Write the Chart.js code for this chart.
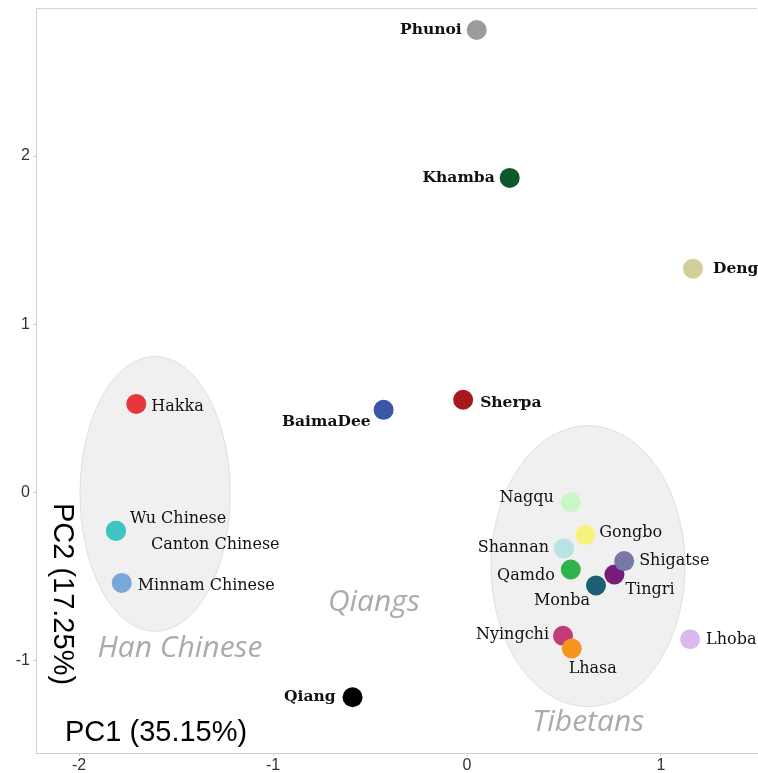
<!DOCTYPE html>
<html>
<head>
<meta charset="utf-8">
<script src="https://cdn.jsdelivr.net/npm/chart.js@4/dist/chart.umd.min.js"></script>
<style>
html,body{margin:0;padding:0;background:#fff;}
#wrap{position:relative;width:758px;height:773px;}
</style>
</head>
<body>
<div id="wrap"><canvas id="c" width="758" height="773"></canvas></div>
<script>
// ---- data ----
const populations = ["Canton Chinese","Phunoi","Khamba","Deng","Hakka","BaimaDee","Sherpa","Wu Chinese","Minnam Chinese","Qiang","Nagqu","Gongbo","Shannan","Qamdo","Tingri","Shigatse","Monba","Nyingchi","Lhasa","Lhoba"];
const pc1 = [-1.81, 0.05, 0.22, 1.165, -1.705, -0.43, -0.02, -1.81, -1.78, -0.59, 0.535, 0.61, 0.50, 0.535, 0.76, 0.81, 0.665, 0.495, 0.54, 1.15];
const pc2 = [-0.23, 2.75, 1.87, 1.33, 0.525, 0.49, 0.55, -0.23, -0.54, -1.22, -0.06, -0.255, -0.335, -0.46, -0.49, -0.41, -0.555, -0.855, -0.93, -0.875];
const xTicks = [-2, -1, 0, 1];
const yTicks = [-1, 0, 1, 2];
const groupNames = ["Han Chinese", "Qiangs", "Tibetans"];
const groupLabelX = [-1.48, -0.48, 0.625];
const groupLabelY = [-0.93, -0.655, -1.37];
const ellipseCx = [-1.608, 0.624];
const ellipseCy = [-0.01, -0.44];
const ellipseRx = [0.387, 0.5];
const ellipseRy = [0.818, 0.836];
const xTitle = "PC1 (35.15%)";
const yTitle = "PC2 (17.25%)";

// ---- styles ----
const pointColors = ["#3cc3c0","#9b9b9b","#0c5a2c","#d3cf98","#e8353b","#3a55a9","#a8181c","#3ec4c1","#78a8d6","#000000","#c9f7c6","#f8f27c","#b8e4e6","#2db44b","#771d78","#7878a8","#1c5f73","#c13b7d","#f7941f","#dbb9ef"];
// label offsets [dx, dy, align, bold]
const labelStyle = {
  "Phunoi":[-15,0,"right",true],
  "Khamba":[-15,0,"right",true],
  "Deng":[20,0,"left",true],
  "Hakka":[15,3,"left",false],
  "BaimaDee":[-13,12,"right",true],
  "Sherpa":[17,3,"left",true],
  "Wu Chinese":[14,-12,"left",false],
  "Canton Chinese":[35,14,"left",false],
  "Minnam Chinese":[16,3,"left",false],
  "Qiang":[-17,0,"right",true],
  "Nagqu":[-17,-4,"right",false],
  "Gongbo":[14,-2,"left",false],
  "Shannan":[-15,-1,"right",false],
  "Qamdo":[-16,6,"right",false],
  "Tingri":[11,15,"left",false],
  "Shigatse":[15,0,"left",false],
  "Monba":[-6,15,"right",false],
  "Nyingchi":[-14,-1,"right",false],
  "Lhasa":[21,20,"center",false],
  "Lhoba":[16,1,"left",false]
};

const decor = {
  id:'decor',
  beforeDatasetsDraw(chart){
    const {ctx, chartArea:a, scales:{x,y}} = chart;
    ctx.save();
    // top border
    ctx.strokeStyle = '#d4d4d4'; ctx.lineWidth = 1;
    ctx.beginPath(); ctx.moveTo(a.left, a.top+0.5); ctx.lineTo(a.right, a.top+0.5); ctx.stroke();
    // ellipses
    for (let i=0;i<ellipseCx.length;i++){
      const cx = x.getPixelForValue(ellipseCx[i]);
      const cy = y.getPixelForValue(ellipseCy[i]);
      const rx = Math.abs(x.getPixelForValue(ellipseCx[i]+ellipseRx[i]) - cx);
      const ry = Math.abs(y.getPixelForValue(ellipseCy[i]+ellipseRy[i]) - cy);
      ctx.beginPath(); ctx.ellipse(cx, cy, rx, ry, 0, 0, Math.PI*2);
      ctx.fillStyle = '#f0f0f0'; ctx.fill();
      ctx.strokeStyle = '#dedede'; ctx.lineWidth = 1; ctx.stroke();
    }
    // group labels
    ctx.font = 'italic 30px "Open Sans", sans-serif';
    ctx.fillStyle = '#ababab'; ctx.textAlign = 'center'; ctx.textBaseline = 'middle';
    for (let i=0;i<groupNames.length;i++){
      ctx.fillText(groupNames[i], x.getPixelForValue(groupLabelX[i]), y.getPixelForValue(groupLabelY[i]));
    }
    // axis titles inside plot
    ctx.fillStyle = '#000';
    ctx.font = '29px "Liberation Sans", Arial, sans-serif';
    ctx.textAlign = 'left';
    ctx.fillText(xTitle, a.left + 29, 733);
    ctx.save();
    ctx.translate(62, 594); ctx.rotate(Math.PI/2);
    ctx.textAlign = 'center';
    ctx.fillText(yTitle, 0, 0);
    ctx.restore();
    ctx.restore();
  },
  afterDatasetsDraw(chart){
    const {ctx, scales:{x,y}} = chart;
    ctx.save();
    ctx.fillStyle = '#111'; ctx.textBaseline = 'middle';
    populations.forEach((p,i)=>{
      const s = labelStyle[p];
      const px = x.getPixelForValue(pc1[i]) + s[0];
      const py = y.getPixelForValue(pc2[i]) + s[1];
      ctx.font = (s[3] ? 'bold 15.5px' : '16px') + ' "DejaVu Serif", serif';
      ctx.textAlign = s[2];
      ctx.fillText(p, px, py);
    });
    ctx.restore();
  }
};

new Chart(document.getElementById('c'), {
  type:'scatter',
  data:{
    datasets:[{
      data: pc1.map((v,i)=>({x:v, y:pc2[i]})),
      pointBackgroundColor: pointColors,
      pointBorderWidth: 0,
      pointRadius: 10,
      pointHoverRadius: 10
    }]
  },
  options:{
    responsive:false,
    animation:false,
    events:[],
    layout:{autoPadding:false, padding:{top:8, right:1, left:0, bottom:0}},
    plugins:{legend:{display:false}, tooltip:{enabled:false}},
    scales:{
      x:{
        type:'linear', min:-2.222, max:1.495,
        afterBuildTicks(s){ s.ticks = xTicks.map(v=>({value:v})); },
        afterFit(s){ s.height = 20; s.paddingLeft = 0; s.paddingRight = 0; },
        grid:{display:true, drawOnChartArea:false, tickLength:3, color:'#cfcfcf'},
        border:{color:'#cfcfcf', width:1},
        ticks:{color:'#333', font:{family:'"Liberation Sans", Arial, sans-serif', size:16}, padding:0, maxRotation:0}
      },
      y:{
        type:'linear', min:-1.552, max:2.881,
        afterBuildTicks(s){ s.ticks = yTicks.map(v=>({value:v})); },
        afterFit(s){ s.width = 36; s.paddingTop = 0; s.paddingBottom = 0; },
        grid:{display:true, drawOnChartArea:false, tickLength:3, color:'#cfcfcf'},
        border:{color:'#cfcfcf', width:1},
        ticks:{color:'#333', font:{family:'"Liberation Sans", Arial, sans-serif', size:16}, padding:3}
      }
    }
  },
  plugins:[decor]
});
</script>
</body>
</html>
